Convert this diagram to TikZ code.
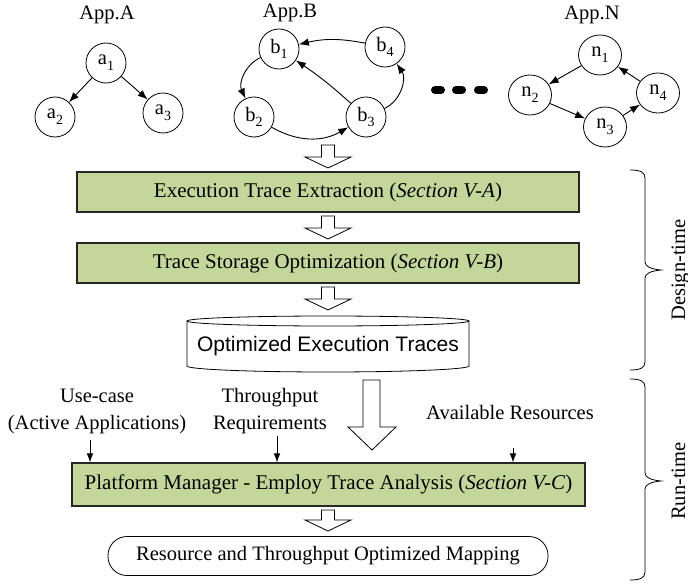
\documentclass[tikz,border=0pt]{standalone}
\usepackage{fontspec}
\setmainfont{Liberation Serif}
\newfontfamily\arialf{Liberation Sans}
\usetikzlibrary{arrows.meta,shapes.geometric}
\newcommand{\sbs}[1]{\raisebox{-0.28em}{\fontsize{14}{14}\selectfont #1}}
\newcommand{\hollowdown}[6]{%
  \draw[hollowarr] (#1-#5,#2) -- (#1+#5,#2) -- (#1+#5,#3) -- (#1+#6,#3) -- (#1,#4) -- (#1-#6,#3) -- (#1-#5,#3) -- cycle;}
\definecolor{boxgreen}{RGB}{196,215,155}
\begin{document}
\begin{tikzpicture}[x=1pt,y=-1pt,
  font=\fontsize{20.5}{27}\selectfont,
  gnode/.style={circle,draw,line width=0.8pt,minimum size=40,inner sep=0pt},
  enode/.style={ellipse,draw,line width=0.8pt,minimum width=43,minimum height=40,inner sep=0pt},
  garr/.style={line width=0.9pt,-{Latex[length=10pt,width=7.5pt]}},
  sarr/.style={line width=0.9pt,-{Latex[length=9pt,width=6.5pt]}},
  stepbox/.style={draw=black!85,fill=boxgreen,line width=1.1pt,inner sep=0pt,font=\fontsize{21}{27}\selectfont},
  hollowarr/.style={draw,fill=white,line width=0.8pt},
  lbl/.style={inner sep=0pt,align=center}]
\useasboundingbox (0,0) rectangle (688,586);

% ---- App.A
\node[lbl] (tA) at (107,15) {App.A};
\node[gnode] (a1) at (106,63) {a\sbs{1}};
\node[gnode] (a2) at (55,117) {a\sbs{2}};
\node[gnode] (a3) at (163,113) {a\sbs{3}};
\draw[garr] (a1) -- (a2);
\draw[garr] (a1) -- (a3);

% ---- App.B
\node[lbl] (tB) at (290,13) {App.B};
\node[gnode] (b1) at (279,49) {b\sbs{1}};
\node[gnode] (b4) at (385,47) {b\sbs{4}};
\node[gnode] (b2) at (254,117) {b\sbs{2}};
\node[gnode] (b3) at (366,117) {b\sbs{3}};
\draw[garr] (b4) to[bend right=12] (b1);
\draw[garr] (b3) to[bend right=4] (b1);
\draw[garr] (b1) to[bend right=45] (b2);
\draw[garr] (b2) to[bend right=30] (b3);
\draw[garr] (b3) to[bend right=50] (b4);

% ---- dots
\draw[line width=8pt,line cap=round] (435,90) -- (441,90);
\draw[line width=8pt,line cap=round] (456,90) -- (462,90);
\draw[line width=8pt,line cap=round] (478,90) -- (484,90);

% ---- App.N
\node[lbl] (tN) at (592,15) {App.N};
\node[enode] (n1) at (600,55) {n\sbs{1}};
\node[enode] (n2) at (530,95) {n\sbs{2}};
\node[enode] (n3) at (605,127) {n\sbs{3}};
\node[enode] (n4) at (658,93) {n\sbs{4}};
\draw[garr] (n1) -- (n2);
\draw[garr] (n2) -- (n3);
\draw[garr] (n3) -- (n4);
\draw[garr] (n4) -- (n1);

% ---- flow
\hollowdown{328}{145}{157}{168}{6.5}{23}
\node[stepbox,minimum width=502,minimum height=40] (s1) at (328,192) {Execution Trace Extraction (\textit{Section V-A})};
\hollowdown{328}{216}{228}{239}{6.5}{23}
\node[stepbox,minimum width=502,minimum height=40] (s2) at (328,263) {Trace Storage Optimization (\textit{Section V-B})};
\hollowdown{328}{287}{299}{310}{6.5}{23}

% storage
\draw[line width=0.8pt] (187,321) -- (187,366) arc[start angle=180,end angle=0,x radius=141,y radius=6] -- (469,321);
\draw[line width=0.8pt] (328,321) ellipse[x radius=141,y radius=5];
\node[inner sep=0pt,font=\arialf\fontsize{21}{25}\selectfont] (st) at (328,346) {Optimized Execution Traces};

% big arrow
\draw[hollowarr] (363,380) -- (380,380) -- (380,427) -- (396,427) -- (372,450) -- (348,427) -- (363,427) -- cycle;

% inputs
\node[lbl] (uc) at (97,411) {Use-case\\(Active Applications)};
\node[lbl] (tp) at (270,411) {Throughput\\Requirements};
\node[lbl] (ar) at (510,412) {Available Resources};

\node[stepbox,minimum width=513,minimum height=43] (s3) at (328.5,484.5) {Platform Manager - Employ Trace Analysis (\textit{Section V-C})};
\coordinate (ucA) at (90,440);
\coordinate (tpA) at (277,436);
\coordinate (arA) at (513,448);
\draw[sarr] (ucA) -- (ucA |- s3.north);
\draw[sarr] (tpA) -- (tpA |- s3.north);
\draw[sarr] (arA) -- (arA |- s3.north);

\hollowdown{328}{510}{520}{531}{6.5}{23}
\node[draw,line width=0.8pt,rounded corners=19pt,minimum width=440,minimum height=39,inner sep=0pt] (map) at (328,556) {Resource and Throughput Optimized Mapping};

% braces
\draw[line width=0.8pt] (630,170) .. controls (640,170) and (645,172) .. (645,178) -- (645,262) .. controls (645,266) and (650,269) .. (661,270) .. controls (650,271) and (645,274) .. (645,278) -- (645,362) .. controls (645,368) and (640,370) .. (630,370);
\draw[line width=0.8pt] (630,379) .. controls (640,379) and (645,381) .. (645,387) -- (645,473) .. controls (645,477) and (650,480) .. (661,481) .. controls (650,482) and (645,485) .. (645,489) -- (645,572) .. controls (645,578) and (640,580) .. (630,580);
\node[rotate=90,anchor=base,inner sep=0pt] (dt) at (685,270) {Design-time};
\node[rotate=90,anchor=base,inner sep=0pt] (rt) at (685,481) {Run-time};
\end{tikzpicture}
\end{document}
